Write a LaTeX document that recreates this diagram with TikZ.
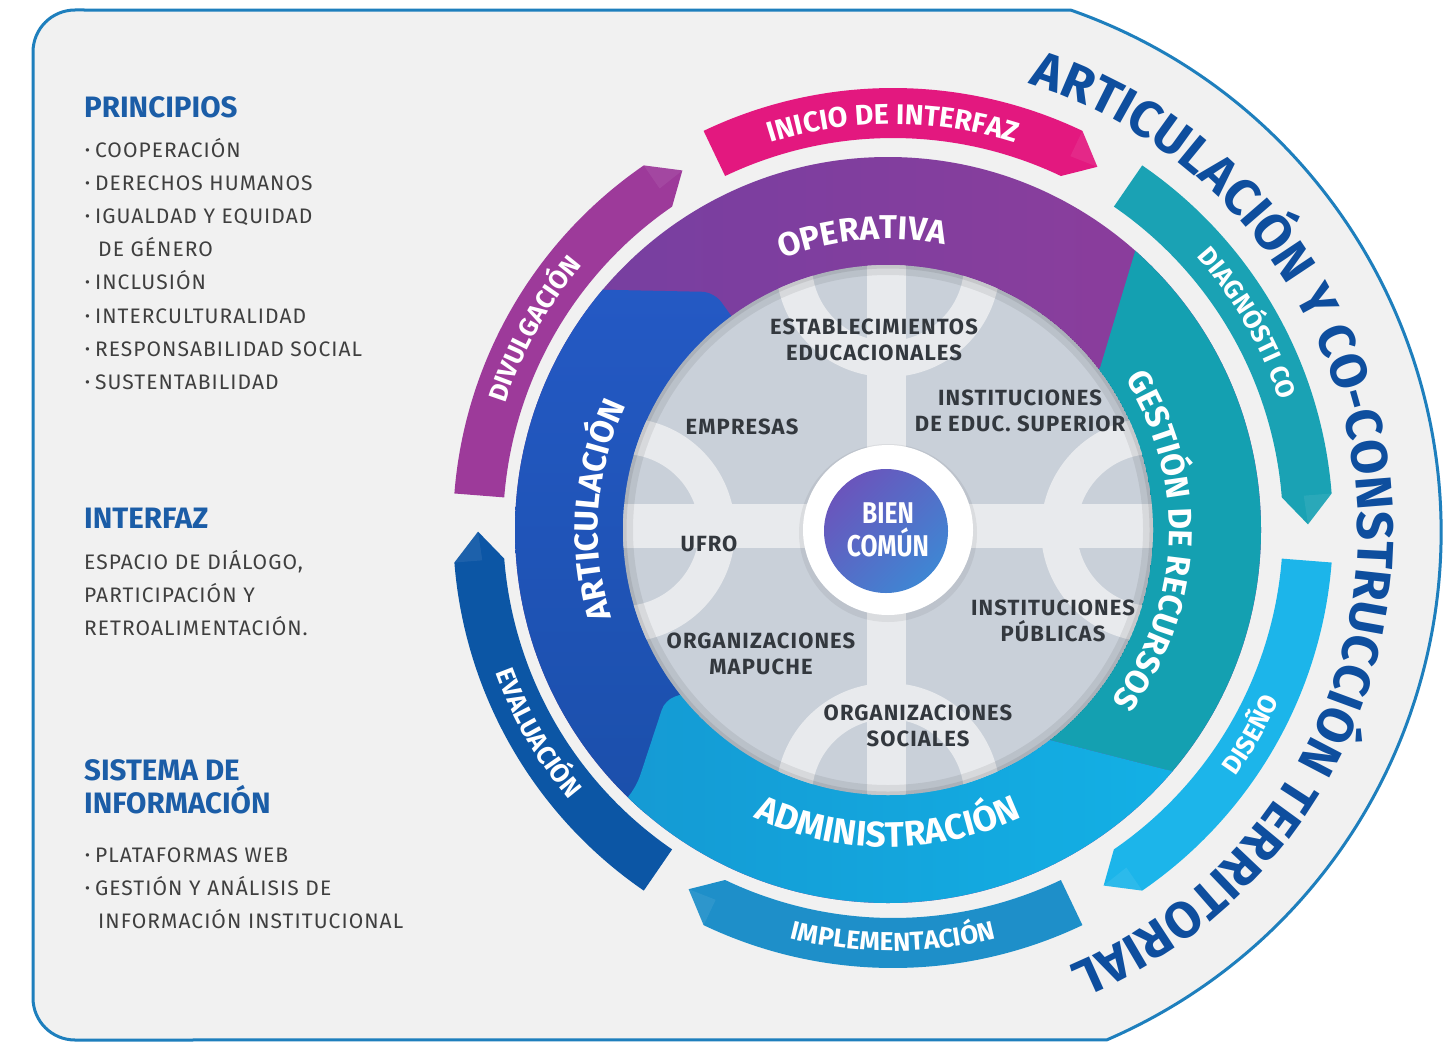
\documentclass[tikz,border=0pt]{standalone}
\usepackage{fontspec}
\setmainfont{Fira Sans}
\newfontfamily\firalsp{Fira Sans}[LetterSpace=5]
\newfontfamily\firacond{Fira Sans}[FakeStretch=0.82]
\usetikzlibrary{decorations.text}
\definecolor{bgcol}{HTML}{F1F1F1}
\definecolor{bordercol}{HTML}{1E7FBD}
\definecolor{titleblue}{HTML}{0E4E9E}
\definecolor{headblue}{HTML}{1B5DA7}
\definecolor{txtgray}{HTML}{3F3F3F}
\definecolor{actorgray}{HTML}{33383E}
\definecolor{opA}{HTML}{743FA1}
\definecolor{opB}{HTML}{8F3D9B}
\definecolor{artA}{HTML}{2459C4}
\definecolor{artB}{HTML}{1A4EA8}
\definecolor{gescol}{HTML}{14A0B1}
\definecolor{admA}{HTML}{1597D1}
\definecolor{admB}{HTML}{12B5E9}
\definecolor{divcol}{HTML}{9D3A9A}
\definecolor{inicol}{HTML}{E3187F}
\definecolor{diagcol}{HTML}{1AA2B4}
\definecolor{discol}{HTML}{1CB5EA}
\definecolor{impcol}{HTML}{1E8FC9}
\definecolor{evacol}{HTML}{0C56A5}
\definecolor{diskcol}{HTML}{C9D0D9}
\definecolor{disklight}{HTML}{E8EAED}
\definecolor{bienA}{HTML}{6A55BC}
\definecolor{bienB}{HTML}{3F86D3}
\newcommand\ttlfont{\bfseries\fontsize{51}{51}\selectfont}
\newcommand\arrlabfont{\bfseries\fontsize{26}{26}\selectfont}
\newcommand\inilabfont{\bfseries\fontsize{28.5}{28.5}\selectfont}
\newcommand\bandlabfont{\bfseries\fontsize{33}{33}\selectfont}
\newcommand\admlabfont{\bfseries\fontsize{35.5}{35.5}\selectfont}
\newcommand\lbul{{\fontsize{15}{15}\selectfont\raisebox{2pt}{•}}\hspace{5pt}}
\tikzset{
  lefthead/.style={anchor=base west, inner sep=0pt, text=headblue, font=\bfseries\fontsize{29.5}{29.5}\selectfont},
  leftitem/.style={anchor=base west, inner sep=0pt, text=txtgray, font=\firalsp\fontsize{21}{21}\selectfont},
  actor/.style={align=center, inner sep=0pt, text=actorgray, font=\firalsp\bfseries\fontsize{22}{26}\selectfont},
  arclab/.style={decorate, decoration={text along path, text align=center, text color=white, text={|\arrlabfont|#1}}},
  bandlab/.style={decorate, decoration={text along path, text align=center, text color=white, text={|\bandlabfont|#1}}},
}
\begin{document}
\begin{tikzpicture}[x=1pt,y=-1pt]
\useasboundingbox (0,0) rectangle (1453,1049);
\fill[white] (0,0) rectangle (1453,1049);
% outer frame
\path[fill=bgcol, draw=bordercol, line width=3pt] (33,52) arc[start angle=180, end angle=270, radius=42]
  -- ([shift={(888,532)}]-70.7:553) arc[start angle=-70.7, end angle=66.7, radius=553]
  -- (75,1040) arc[start angle=90, end angle=180, radius=42] -- cycle;
% outer arrows
\foreach \s/\c in {4.5/discol, 64.5/impcol, 124.5/evacol, 184.5/divcol, 244.5/inicol, 304.5/diagcol}{
  \pgfmathsetmacro{\endang}{\s+51}
  \pgfmathsetmacro{\tipang}{\s+55}
  \fill[\c] ([shift={(893,528)}]\s:440) arc[start angle=\s, end angle=\endang, radius=440]
    -- ([shift={(893,528)}]\tipang:415) -- ([shift={(893,528)}]\endang:390)
    arc[start angle=\endang, end angle=\s, radius=390] -- cycle;
  \fill[white, opacity=0.07] ([shift={(893,528)}]\endang:440) -- ([shift={(893,528)}]\tipang:415) -- ([shift={(893,528)}]\endang:412) -- cycle;
}
% middle band
\begin{scope}
  \clip (888,530) circle[radius=373];
  \shade[left color=opA, right color=opB] (515,157) rectangle (1261,903);
  \shade[top color=artA, bottom color=artB, rounded corners=12] (470,287) -- (714,292) -- (745,335) -- (745,690) -- (600,870) -- (470,870) -- cycle;
  \fill[gescol] (1150,130) -- (1300,130) -- (1300,772) -- (1175,772) -- (1030,735) -- (900,600) -- (900,500) -- (1100,368) -- (1140,235) -- cycle;
  \shade[left color=admA, right color=admB, rounded corners=10] (540,930) -- (600,835) -- (637,785) -- (665,700) -- (700,688) -- (1030,735) -- (1175,772) -- (1300,772) -- (1300,950) -- cycle;
\end{scope}
% inner disk
\begin{scope}
  \clip (888,530) circle[radius=265];
  \fill[diskcol] (888,530) circle[radius=265];
  \fill[disklight] (867,250) rectangle (906,810);
  \fill[disklight] (610,504) rectangle (1165,548);
  \draw[disklight, line width=36pt] (888,265) circle[radius=94];
  \draw[disklight, line width=36pt] (888,795) circle[radius=94];
  \draw[disklight, line width=36pt] (623,530) circle[radius=94];
  \draw[disklight, line width=36pt] (1153,530) circle[radius=94];
  \draw[black, opacity=0.07, line width=14pt] (888,530) circle[radius=262];
  \draw[black, opacity=0.08, line width=5pt] (888,530) circle[radius=264];
\end{scope}
% centre
\fill[black, opacity=0.06] (888,533) circle[radius=89];
\fill[white] (888,530) circle[radius=85];
\shade[left color=bienA, right color=bienB, shading angle=45] (886,531) circle[radius=62];
\node[align=center, inner sep=0pt, text=white, font=\firacond\bfseries\fontsize{30}{33}\selectfont] (bien) at (888,530) {BIEN\\COMÚN};
% actors
\node[actor] (estab) at (874,340) {ESTABLECIMIENTOS\\EDUCACIONALES};
\node[actor] (empresas) at (742,427) {EMPRESAS};
\node[actor] (ies) at (1020,411) {INSTITUCIONES\\DE EDUC. SUPERIOR};
\node[actor] (ufro) at (709,544) {UFRO};
\node[actor] (mapuche) at (761,654) {ORGANIZACIONES\\MAPUCHE};
\node[actor] (publicas) at (1053,621) {INSTITUCIONES\\PÚBLICAS};
\node[actor] (sociales) at (918,726) {ORGANIZACIONES\\SOCIALES};
% band labels
\path[bandlab=OPERATIVA] ([shift={(888,530)}]-150:291) arc[start angle=-150, end angle=-40, radius=291];
\path[bandlab=ARTICULACIÓN] ([shift={(888,530)}]130:290) arc[start angle=130, end angle=238, radius=290];
\path[bandlab={GESTIÓN DE RECURSOS}] ([shift={(888,530)}]-50:281) arc[start angle=-50, end angle=55, radius=281];
\path[decorate, decoration={text along path, text align=center, text color=white, text={|\admlabfont|ADMINISTRACIÓN}}] ([shift={(888,530)}]145:317) arc[start angle=145, end angle=35, radius=317];
% arrow labels
\path[decorate, decoration={text along path, text align=center, text color=white, text={|\inilabfont|INICIO DE INTERFAZ}}] ([shift={(893,528)}]-130:404) arc[start angle=-130, end angle=-50, radius=404];
\path[arclab=DIVULGACIÓN] ([shift={(893,528)}]185:407) arc[start angle=185, end angle=233, radius=407];
\path[arclab={DIAGNÓSTI CO}] ([shift={(893,528)}]-55:407) arc[start angle=-55, end angle=-5, radius=407];
\path[arclab=DISEÑO] ([shift={(893,528)}]55:423) arc[start angle=55, end angle=5, radius=423];
\path[arclab=IMPLEMENTACIÓN] ([shift={(893,528)}]115:423) arc[start angle=115, end angle=65, radius=423];
\path[arclab=EVALUACIÓN] ([shift={(893,528)}]175:423) arc[start angle=175, end angle=125, radius=423];
% title
\path[decorate, decoration={text along path, text align=center, text color=titleblue, text={|\ttlfont|ARTICULACIÓN Y CO-CONSTRUCCIÓN TERRITORIAL}}] ([shift={(888,532)}]-84.6:470) arc[start angle=-84.6, end angle=79.4, radius=470];
% left texts
\node[lefthead] (hprin) at (84,117) {PRINCIPIOS};
\node[leftitem] (p1) at (85,157) {\lbul COOPERACIÓN};
\node[leftitem] (p2) at (85,190) {\lbul DERECHOS HUMANOS};
\node[leftitem] (p3) at (85,223) {\lbul IGUALDAD Y EQUIDAD};
\node[leftitem] (p3b) at (98,256) {DE GÉNERO};
\node[leftitem] (p4) at (85,289) {\lbul INCLUSIÓN};
\node[leftitem] (p5) at (85,323) {\lbul INTERCULTURALIDAD};
\node[leftitem] (p6) at (85,356) {\lbul RESPONSABILIDAD SOCIAL};
\node[leftitem] (p7) at (85,389) {\lbul SUSTENTABILIDAD};
\node[lefthead] (hint) at (84,528) {INTERFAZ};
\node[leftitem] (i1) at (84,569) {ESPACIO DE DIÁLOGO,};
\node[leftitem] (i2) at (84,602) {PARTICIPACIÓN Y};
\node[leftitem] (i3) at (84,635) {RETROALIMENTACIÓN.};
\node[lefthead] (hsis1) at (84,780) {SISTEMA DE};
\node[lefthead] (hsis2) at (84,813) {INFORMACIÓN};
\node[leftitem] (s1) at (85,862) {\lbul PLATAFORMAS WEB};
\node[leftitem] (s2) at (85,895) {\lbul GESTIÓN Y ANÁLISIS DE};
\node[leftitem] (s2b) at (98,928) {INFORMACIÓN INSTITUCIONAL};
\end{tikzpicture}
\end{document}
